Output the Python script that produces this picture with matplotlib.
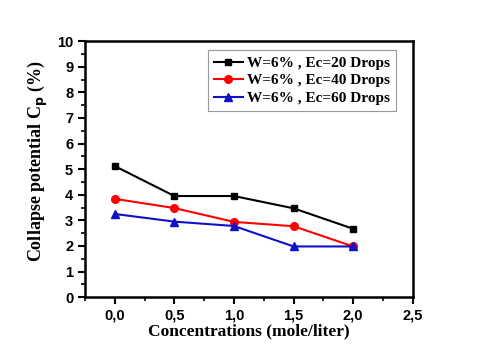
import numpy as np
import matplotlib.pyplot as plt
from matplotlib.ticker import MultipleLocator, FuncFormatter

# data
conc = [0.0, 0.5, 1.0, 1.5, 2.0]
cp_ec20 = [5.12, 3.95, 3.95, 3.47, 2.67]
cp_ec40 = [3.84, 3.48, 2.94, 2.77, 1.98]
cp_ec60 = [3.25, 2.95, 2.78, 1.98, 1.98]
labels = ["W=6% , Ec=20 Drops", "W=6% , Ec=40 Drops", "W=6% , Ec=60 Drops"]

serif = {"family": "Liberation Serif", "weight": "bold"}

fig = plt.figure(figsize=(4.8, 3.58), dpi=100)
ax = fig.add_axes([0.177, 0.170, 0.683, 0.715])

ax.plot(conc, cp_ec20, color="black", marker="s", ms=5, lw=1.5, label=labels[0])
ax.plot(conc, cp_ec40, color="red", marker="o", ms=5.5, lw=1.5, label=labels[1])
ax.plot(conc, cp_ec60, color="#1010c8", marker="^", ms=6, lw=1.5, label=labels[2])

ax.set_xlim(-0.25, 2.5)
ax.set_ylim(0, 10)
ax.xaxis.set_major_locator(MultipleLocator(0.5))
ax.xaxis.set_minor_locator(MultipleLocator(0.25))
ax.yaxis.set_major_locator(MultipleLocator(1))
ax.yaxis.set_minor_locator(MultipleLocator(0.5))
ax.xaxis.set_major_formatter(FuncFormatter(lambda v, p: f"{v:.1f}".replace(".", ",")))

for s in ax.spines.values():
    s.set_linewidth(1.8)
ax.tick_params(which="major", length=5, width=1.5, labelsize=10.5)
ax.tick_params(which="minor", length=3, width=1.2)
for t in ax.get_xticklabels() + ax.get_yticklabels():
    t.set_fontfamily("Liberation Sans")
    t.set_fontweight("bold")

ax.set_xlabel("Concentrations (mole/liter)", fontdict=serif, fontsize=12.5, labelpad=0)
ax.set_ylabel("Collapse potential C$_\\mathbf{p}$ (%)", fontdict=serif, fontsize=13, labelpad=5)
ax.yaxis.label.set_y(0.53)

leg = ax.legend(loc="upper right", bbox_to_anchor=(0.95, 0.965),
                prop={"family": "Liberation Serif", "weight": "bold", "size": 11},
                fancybox=False, edgecolor="#999999", framealpha=1, handlelength=1.9,
                borderaxespad=0, labelspacing=0.25, handletextpad=0.3, borderpad=0.4)
leg.get_frame().set_linewidth(0.8)

fig.savefig("out.png", dpi=100)
